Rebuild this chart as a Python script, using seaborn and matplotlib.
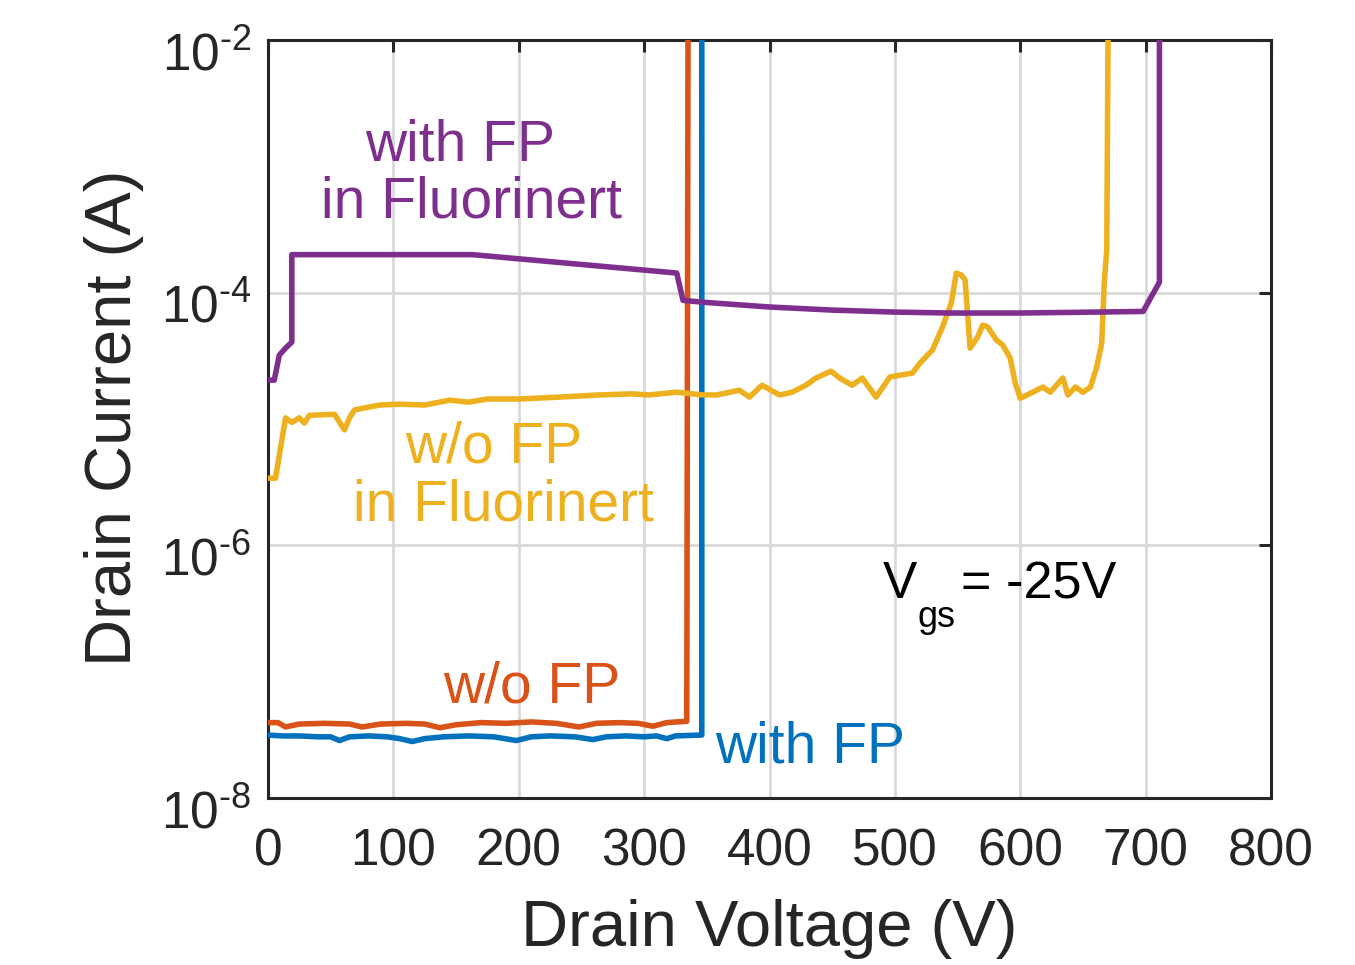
import numpy as np
import pandas as pd
import matplotlib
matplotlib.use("Agg")
import matplotlib.pyplot as plt
import matplotlib.transforms as mtransforms
import seaborn as sns
from matplotlib.ticker import FixedLocator, FuncFormatter, NullLocator

# ---------------- data ----------------
blue_v = [0, 12, 25, 40, 50, 57, 65, 80, 95, 105, 115, 125, 140, 160, 180, 198,
          210, 225, 245, 259, 270, 285, 300, 310, 318, 325, 346, 346]
blue_i = [3.15e-8, 3.1e-8, 3.1e-8, 3.05e-8, 3.05e-8, 2.85e-8, 3.05e-8, 3.1e-8,
          3.05e-8, 2.95e-8, 2.8e-8, 2.95e-8, 3.05e-8, 3.1e-8, 3.05e-8, 2.85e-8,
          3.05e-8, 3.1e-8, 3.05e-8, 2.9e-8, 3.05e-8, 3.1e-8, 3.05e-8, 3.1e-8,
          2.95e-8, 3.1e-8, 3.15e-8, 1e-2]

orange_v = [0, 8, 14, 25, 45, 65, 75, 90, 110, 125, 137, 150, 170, 190, 210, 230,
            248, 262, 280, 295, 307, 318, 334, 335]
orange_i = [3.95e-8, 3.95e-8, 3.65e-8, 3.85e-8, 3.9e-8, 3.85e-8, 3.65e-8, 3.85e-8,
            3.9e-8, 3.85e-8, 3.6e-8, 3.8e-8, 3.95e-8, 3.9e-8, 4.0e-8, 3.9e-8,
            3.65e-8, 3.9e-8, 3.95e-8, 3.9e-8, 3.7e-8, 3.95e-8, 4.05e-8, 1e-2]

yellow_v = [0, 6, 14, 19, 25, 29, 33, 53, 61, 65, 69, 89, 105, 125, 145, 160, 175,
            200, 232, 264, 290, 304, 326, 347, 358, 376, 384, 394, 408, 418, 429,
            437, 449, 456, 466, 474, 485, 496, 514, 520, 530, 538, 545, 549, 553,
            556, 560, 566, 570, 574, 581, 586, 592, 596, 600, 610, 618, 624, 634,
            638, 644, 650, 656, 661, 665, 667, 669, 670]
yellow_i = [3.4e-6, 3.4e-6, 1.02e-5, 9.4e-6, 1.02e-5, 9.3e-6, 1.07e-5, 1.09e-5,
            8.2e-6, 1.02e-5, 1.18e-5, 1.29e-5, 1.31e-5, 1.29e-5, 1.41e-5, 1.36e-5,
            1.44e-5, 1.44e-5, 1.49e-5, 1.55e-5, 1.58e-5, 1.55e-5, 1.63e-5, 1.55e-5,
            1.55e-5, 1.69e-5, 1.49e-5, 1.85e-5, 1.55e-5, 1.63e-5, 1.85e-5, 2.11e-5,
            2.39e-5, 2.11e-5, 1.85e-5, 2.11e-5, 1.49e-5, 2.15e-5, 2.31e-5, 2.77e-5,
            3.52e-5, 5.35e-5, 8.28e-5, 1.43e-4, 1.38e-4, 1.26e-4, 3.64e-5, 4.45e-5,
            5.54e-5, 5.35e-5, 4.22e-5, 3.85e-5, 3.03e-5, 1.92e-5, 1.46e-5, 1.63e-5,
            1.79e-5, 1.63e-5, 2.11e-5, 1.55e-5, 1.79e-5, 1.63e-5, 1.79e-5, 2.58e-5,
            3.99e-5, 1.19e-4, 2.17e-4, 1e-2]

purple_v = [0, 5, 9, 14, 19, 19, 163, 326, 331, 347, 400, 450, 500, 544, 600, 650,
            698, 711, 711]
purple_i = [2.03e-5, 2.03e-5, 3.2e-5, 3.64e-5, 4.06e-5, 2.0e-4, 2.0e-4, 1.43e-4,
            8.7e-5, 8.4e-5, 7.7e-5, 7.28e-5, 7.02e-5, 6.9e-5, 6.9e-5, 7.0e-5,
            7.1e-5, 1.21e-4, 1e-2]

x_ticks = [0, 100, 200, 300, 400, 500, 600, 700, 800]
y_ticks = [1e-8, 1e-6, 1e-4, 1e-2]

colors = {"blue": "#0072BD", "orange": "#D95319", "yellow": "#EDB120",
          "purple": "#7E2F8E"}

# ---------------- style ----------------
sns.set_style("white")
plt.rcParams["font.family"] = ["Liberation Sans", "DejaVu Sans"]
plt.rcParams["mathtext.fontset"] = "custom"
plt.rcParams["mathtext.rm"] = "Liberation Sans"
plt.rcParams["mathtext.default"] = "regular"

fig = plt.figure(figsize=(13.55, 9.65), dpi=100)
ax = fig.add_axes([268 / 1355, 1 - 798 / 965, (1271 - 268) / 1355, (798 - 40) / 965])

lw = 4.0
series = [("blue", blue_v, blue_i), ("orange", orange_v, orange_i),
          ("yellow", yellow_v, yellow_i), ("purple", purple_v, purple_i)]
for name, v, i in series:
    df = pd.DataFrame({"V": v, "I": i})
    sns.lineplot(data=df, x="V", y="I", ax=ax, color=colors[name], linewidth=lw,
                 estimator=None, sort=False, legend=False, zorder=3)

ax.set_yscale("log")
ax.set_xlim(0, 800)
ax.set_ylim(1e-8, 1e-2)
ax.xaxis.set_major_locator(FixedLocator(x_ticks))
ax.yaxis.set_major_locator(FixedLocator(y_ticks))
ax.yaxis.set_minor_locator(NullLocator())
ax.xaxis.set_major_formatter(FuncFormatter(lambda v, p: f"{int(v)}"))
ax.yaxis.set_major_formatter(
    FuncFormatter(lambda v, p: r"$10^{\text{-}%d}$" % abs(int(round(np.log10(v))))))

ax.grid(True, which="major", color="#d9d9d9", linewidth=2.0, zorder=0)
ax.set_axisbelow(True)
for s in ax.spines.values():
    s.set_visible(True)
    s.set_color("#262626")
    s.set_linewidth(2.2)

ax.tick_params(axis="both", which="major", direction="in", length=8.5, width=2.2,
               colors="#262626", labelsize=37, top=True, right=True,
               labelcolor="#262626")
ax.tick_params(axis="x", pad=21)
ax.tick_params(axis="y", pad=12)
offset = mtransforms.ScaledTranslation(0, -0.30, fig.dpi_scale_trans)
for lab in ax.get_yticklabels():
    lab.set_verticalalignment("baseline")
    lab.set_transform(lab.get_transform() + offset)

ax.set_xlabel("Drain Voltage (V)", fontsize=47, color="#262626")
ax.set_ylabel("Drain Current (A)", fontsize=47, color="#262626")
ax.xaxis.set_label_coords(0.5, -0.133)
ax.yaxis.set_label_coords(-0.124, 0.502)

# ---------------- annotations ----------------
fs = 41
ax.text(153, 1.12e-3, "with FP", color=colors["purple"], fontsize=fs, ha="center", va="baseline")
ax.text(162, 3.9e-4, "in Fluorinert", color=colors["purple"], fontsize=fs, ha="center", va="baseline")
ax.text(180, 4.56e-6, "w/o FP", color=colors["yellow"], fontsize=fs, ha="center", va="baseline")
ax.text(188, 1.58e-6, "in Fluorinert", color=colors["yellow"], fontsize=fs, ha="center", va="baseline")
ax.text(210, 5.74e-8, "w/o FP", color=colors["orange"], fontsize=fs, ha="center", va="baseline")
ax.text(432, 1.92e-8, "with FP", color=colors["blue"], fontsize=fs, ha="center", va="baseline")

ax.text(490, 3.82e-7, "V", color="black", fontsize=37, ha="left", va="baseline")
ax.text(518, 2.25e-7, "gs", color="black", fontsize=26, ha="left", va="baseline")
ax.text(553, 3.82e-7, "= -25V", color="black", fontsize=37.5, ha="left", va="baseline")

fig.savefig("out.png", dpi=100, facecolor="white")
